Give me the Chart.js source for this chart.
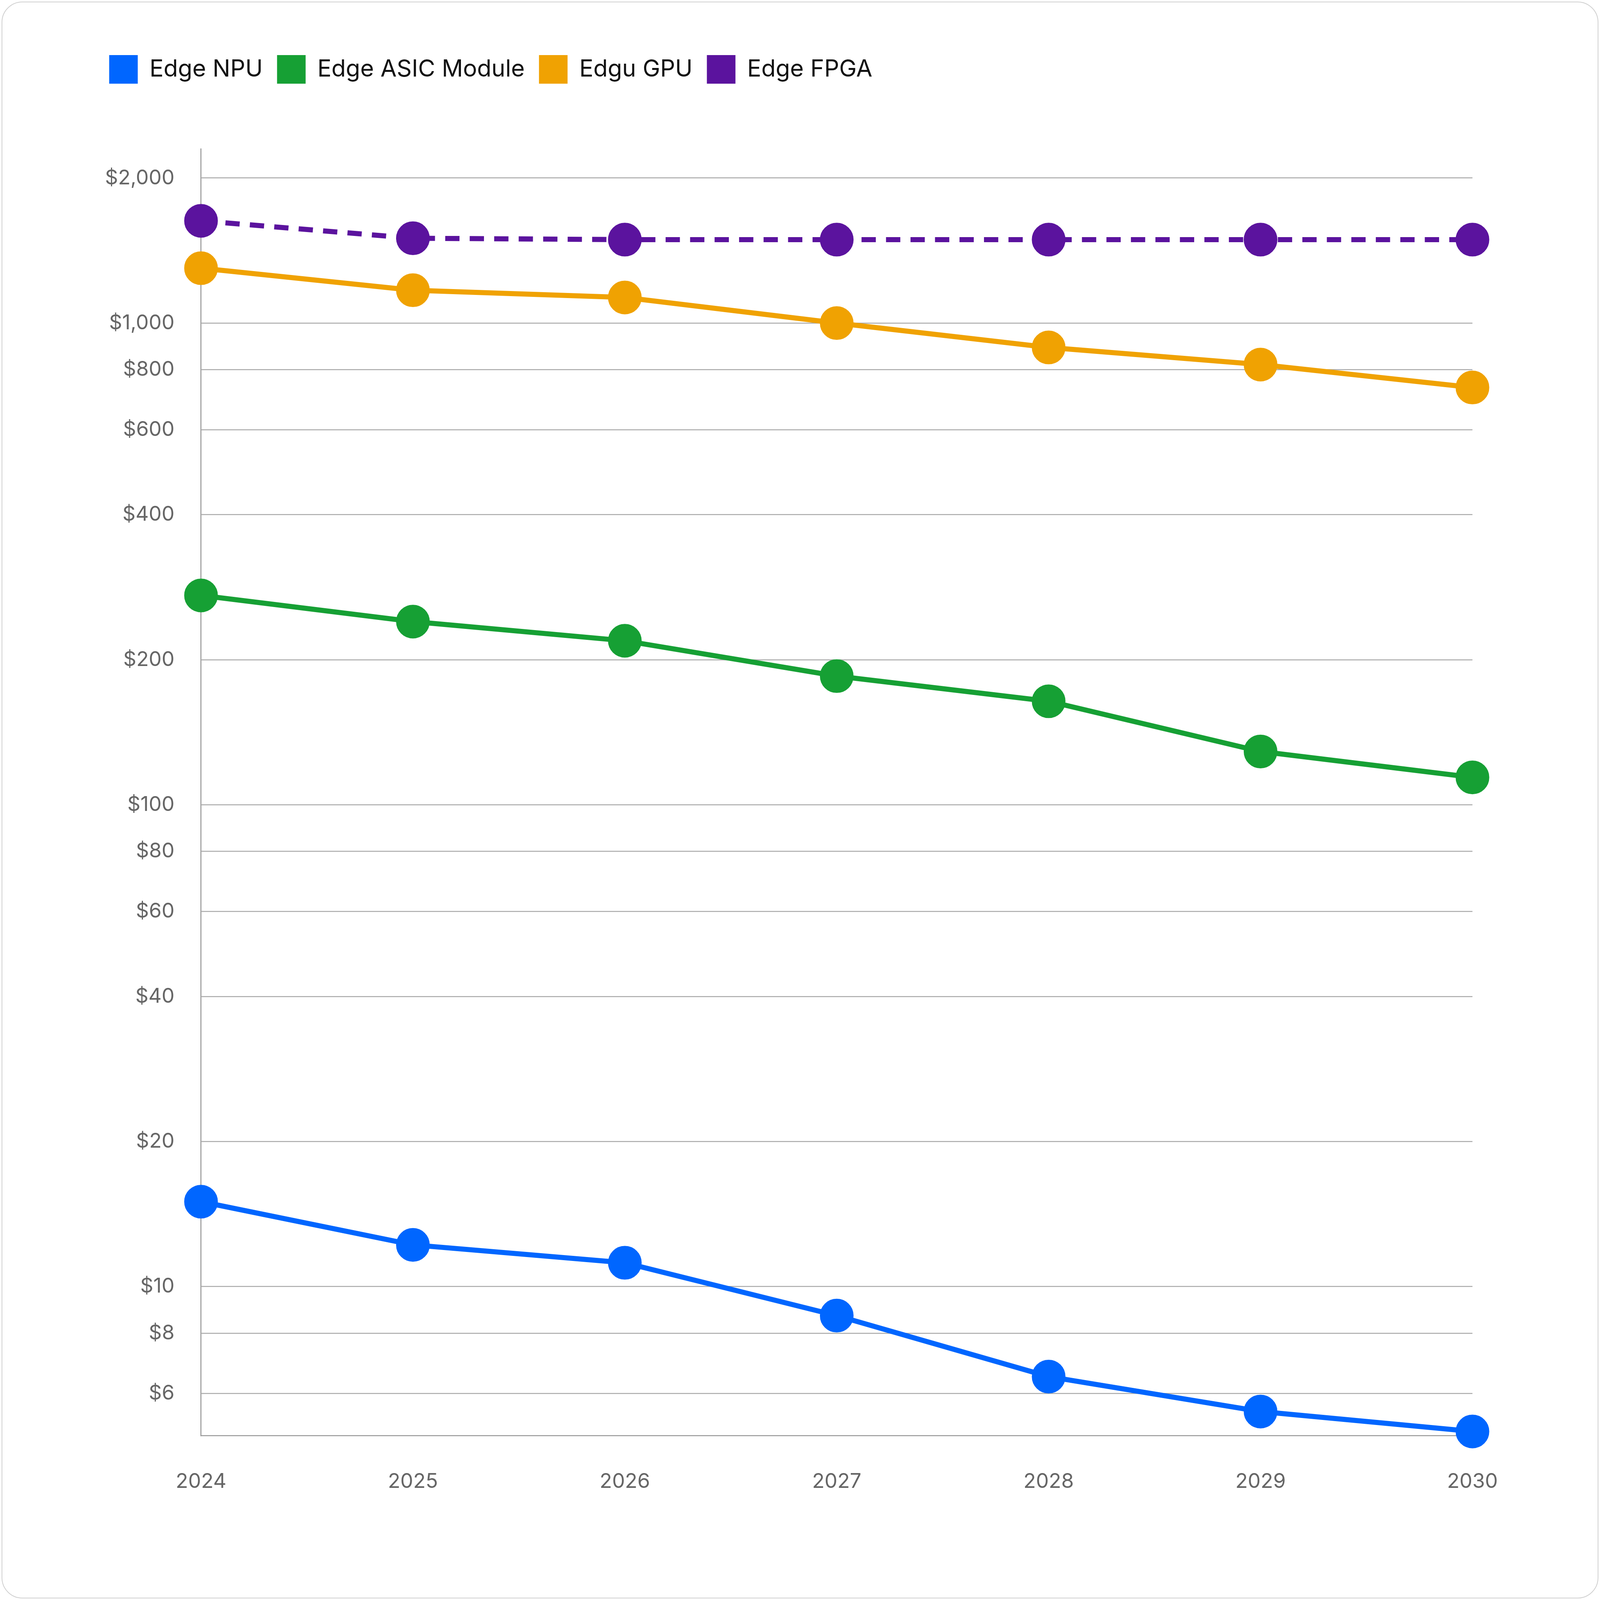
<!DOCTYPE html>
<html>
<head>
<meta charset="utf-8">
<script src="https://cdn.jsdelivr.net/npm/chart.js@4.4.1/dist/chart.umd.min.js"></script>
<style>
  html, body { margin: 0; padding: 0; background: #fff; overflow: hidden; }
  #card {
    position: absolute; left: 0.1vw; top: 0.1vw; right: 0.1vw; bottom: 0.1vw;
    border: 0.07vw solid #d0d0d0; border-radius: 1.3vw; background: #fff;
  }
  #wrap { position: absolute; left: 0; top: 0; width: 100vw; height: 100vh; }
</style>
</head>
<body>
<div id="card"></div>
<div id="wrap"><canvas id="chart"></canvas></div>
<script>
const S = window.innerWidth / 1568;

const years = ['2024', '2025', '2026', '2027', '2028', '2029', '2030'];
const edgeNpu = [15, 12.2, 11.2, 8.7, 6.5, 5.5, 5];
const edgeAsic = [272, 240, 219, 185, 164, 129, 114];
const edguGpu = [1300, 1170, 1130, 1000, 890, 820, 735];
const edgeFpga = [1630, 1500, 1490, 1490, 1490, 1490, 1490];
const yTicks = [6, 8, 10, 20, 40, 60, 80, 100, 200, 400, 600, 800, 1000, 2000];

const series = [
  { label: 'Edge NPU', data: edgeNpu, color: '#0066FF', dash: [] },
  { label: 'Edge ASIC Module', data: edgeAsic, color: '#16A034', dash: [] },
  { label: 'Edgu GPU', data: edguGpu, color: '#F0A202', dash: [] },
  { label: 'Edge FPGA', data: edgeFpga, color: '#5B139E', dash: [14 * S, 10 * S] }
];

const legendGap = {
  id: 'legendGap',
  beforeInit(chart) {
    const fit = chart.legend.fit;
    chart.legend.fit = function () {
      fit.bind(this)();
      this.height += 60 * S;
    };
  }
};

new Chart(document.getElementById('chart'), {
  type: 'line',
  data: {
    labels: years,
    datasets: series.map(s => ({
      label: s.label,
      data: s.data,
      borderColor: s.color,
      backgroundColor: s.color,
      pointBackgroundColor: s.color,
      pointBorderColor: s.color,
      borderWidth: 5 * S,
      borderDash: s.dash,
      pointRadius: 14 * S,
      pointHoverRadius: 14 * S,
      tension: 0,
      clip: false
    }))
  },
  options: {
    responsive: true,
    maintainAspectRatio: false,
    animation: false,
    layout: { padding: { top: 40 * S, right: 125 * S, bottom: 91 * S, left: 93 * S } },
    plugins: {
      legend: {
        align: 'start',
        labels: {
          boxWidth: 28 * S,
          boxHeight: 28 * S,
          padding: 14 * S,
          color: '#111',
          font: { family: 'Inter', size: 23 * S },
          generateLabels(chart) {
            return chart.data.datasets.map((d, i) => ({
              text: d.label,
              fillStyle: d.backgroundColor,
              strokeStyle: d.backgroundColor,
              lineWidth: 0,
              lineDash: [],
              hidden: !chart.isDatasetVisible(i),
              datasetIndex: i,
              fontColor: '#111'
            }));
          }
        }
      },
      tooltip: { enabled: false }
    },
    scales: {
      x: {
        offset: false,
        grid: { display: false },
        border: { color: '#999', width: 1 * S },
        ticks: { color: '#666', padding: 30 * S, font: { family: 'Inter', size: 20 * S } },
        afterFit(scale) { scale.height = 70 * S; }
      },
      y: {
        type: 'logarithmic',
        min: 4.9,
        max: 2300,
        afterBuildTicks(scale) { scale.ticks = yTicks.map(v => ({ value: v })); },
        grid: { color: '#aaa', lineWidth: 1 * S, drawTicks: false },
        border: { color: '#999', width: 1 * S },
        ticks: {
          color: '#666',
          padding: 26 * S,
          font: { family: 'Inter', size: 20 * S },
          callback: v => '$' + Number(v).toLocaleString('en-US')
        },
        afterFit(scale) { scale.width = 104 * S; }
      }
    }
  },
  plugins: [legendGap]
});
</script>
</body>
</html>
